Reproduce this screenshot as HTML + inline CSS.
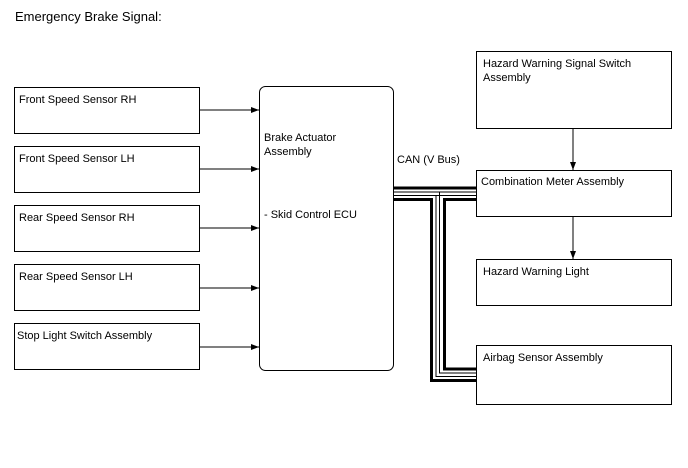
<!DOCTYPE html>
<html><head><style>
body{margin:0;background:#fff;width:688px;height:463px;overflow:hidden}
svg text{font-family:"Liberation Sans",sans-serif;font-size:11px;fill:#000}
</style></head><body>
<svg width="688" height="463" xmlns="http://www.w3.org/2000/svg">
<defs><marker id="a" markerWidth="8" markerHeight="6" refX="8" refY="3" orient="auto" markerUnits="userSpaceOnUse"><path d="M0,0L8,3L0,6z" fill="#000"/></marker></defs>
<text x="15" y="21" style="font-size:13px">Emergency Brake Signal:</text>
<g fill="#fff" stroke="#000" stroke-width="1">
<rect x="14.5" y="87.5" width="185" height="46"/>
<rect x="14.5" y="146.5" width="185" height="46"/>
<rect x="14.5" y="205.5" width="185" height="46"/>
<rect x="14.5" y="264.5" width="185" height="46"/>
<rect x="14.5" y="323.5" width="185" height="46"/>
<rect x="259.5" y="86.5" width="134" height="284" rx="6"/>
<rect x="476.5" y="51.5" width="195" height="77"/>
<rect x="476.5" y="170.5" width="195" height="46"/>
<rect x="476.5" y="259.5" width="195" height="46"/>
<rect x="476.5" y="345.5" width="195" height="59"/>
</g>
<text x="19" y="103">Front Speed Sensor RH</text>
<text x="19" y="162">Front Speed Sensor LH</text>
<text x="19" y="221">Rear Speed Sensor RH</text>
<text x="19" y="280">Rear Speed Sensor LH</text>
<text x="17" y="339">Stop Light Switch Assembly</text>
<text x="264" y="141">Brake Actuator</text>
<text x="264" y="155">Assembly</text>
<text x="264" y="218">- Skid Control ECU</text>
<text x="397" y="163">CAN (V Bus)</text>
<text x="483" y="67">Hazard Warning Signal Switch</text>
<text x="483" y="81">Assembly</text>
<text x="481" y="185">Combination Meter Assembly</text>
<text x="483" y="275">Hazard Warning Light</text>
<text x="483" y="361">Airbag Sensor Assembly</text>
<g stroke="#000" stroke-width="1" marker-end="url(#a)">
<line x1="200" y1="110" x2="259" y2="110"/>
<line x1="200" y1="169" x2="259" y2="169"/>
<line x1="200" y1="228" x2="259" y2="228"/>
<line x1="200" y1="288" x2="259" y2="288"/>
<line x1="200" y1="347" x2="259" y2="347"/>
<line x1="573" y1="129" x2="573" y2="170"/>
<line x1="573" y1="217" x2="573" y2="259"/>
</g>
<g fill="none" stroke="#000">
<line x1="394" y1="188" x2="476" y2="188" stroke-width="3"/>
<line x1="394" y1="192" x2="476" y2="192" stroke-width="1"/>
<line x1="394" y1="195.5" x2="476" y2="195.5" stroke-width="1"/>
<path d="M394 199.5H431.5V380.5H476" stroke-width="3"/>
<path d="M436 195.5V376.5H476" stroke-width="1"/>
<path d="M439.5 192V373H476" stroke-width="1"/>
<path d="M476 199.5H444.5V369H476" stroke-width="3"/>
</g>
</svg>
</body></html>
